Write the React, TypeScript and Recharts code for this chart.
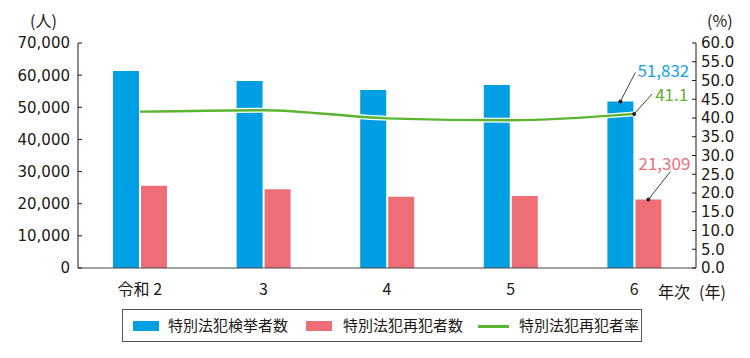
import { ComposedChart, Bar, Line, XAxis, YAxis } from 'recharts';

const FONT = '"Noto Sans CJK JP", "Noto Sans", sans-serif';
const NUM_FONT = '"DejaVu Sans", sans-serif';
const INK = '#231815';
const BLUE = '#009fe3';
const RED = '#ee6e78';
const GREEN = '#5cb531';

const years = ['令和 2', '3', '4', '5', '6'];
const arrests = [61300, 58200, 55400, 56900, 51832];
const repeaters = [25600, 24500, 22200, 22400, 21309];
const repeatRate = [41.7, 42.1, 39.9, 39.4, 41.1];

const leftTicks = [0, 10000, 20000, 30000, 40000, 50000, 60000, 70000];
const rightTicks = [0, 5, 10, 15, 20, 25, 30, 35, 40, 45, 50, 55, 60];

const data = years.map((year, i) => ({
  year,
  arrests: arrests[i],
  repeaters: repeaters[i],
  rate: repeatRate[i],
}));

const last = years.length - 1;
const comma = (n: number) => String(n).replace(/\B(?=(\d{3})+(?!\d))/g, ',');

function LeftTick({ x, y, payload }: any) {
  return (
    <g>
      <line x1={x + 8} x2={x + 12} y1={y} y2={y} stroke={INK} />
      <text x={x} y={y} dy="0.36em" textAnchor="end" fontSize={15} fill={INK} fontFamily={NUM_FONT}>
        {comma(payload.value)}
      </text>
    </g>
  );
}

function RightTick({ x, y, payload }: any) {
  return (
    <g>
      <line x1={x - 9} x2={x - 5} y1={y} y2={y} stroke={INK} />
      <text x={x} y={y} dy="0.36em" textAnchor="start" fontSize={15} fill={INK} fontFamily={NUM_FONT}>
        {Number(payload.value).toFixed(1)}
      </text>
    </g>
  );
}

// leader line + value label for the latest year
function Callout({ x, y, lx, ly, tx, ty, anchor, color, text }: any) {
  return (
    <g>
      <circle cx={x} cy={y} r={2} fill={INK} />
      <line x1={x} y1={y} x2={x + lx} y2={y + ly} stroke="#444" strokeWidth={1} />
      <text x={x + tx} y={y + ty} dy="0.35em" textAnchor={anchor} fontSize={17} fill={color} fontFamily={FONT}>
        {text}
      </text>
    </g>
  );
}

const isLast = (p: any, v: number) => p.index === last || p.value === v;

export default function App() {
  return (
    <div style={{ position: 'absolute', left: 0, top: 0, width: 750, height: 358, background: '#fff', fontFamily: FONT, color: INK }}>
      <ComposedChart
        width={750}
        height={358}
        data={data}
        margin={{ top: 43, right: 4, left: 8, bottom: 60 }}
        barSize={26}
        barGap={2}
      >
        <XAxis
          dataKey="year"
          tickLine={false}
          tickSize={0}
          tickMargin={16}
          axisLine={{ stroke: '#444' }}
          tick={{ fontSize: 16, fill: INK, fontFamily: FONT }}
          height={30}
        />
        <YAxis
          yAxisId="left"
          domain={[0, 70000]}
          ticks={leftTicks}
          width={70}
          tickSize={0}
          tickMargin={8}
          tickLine={false}
          axisLine={{ stroke: INK }}
          tick={<LeftTick />}
          interval={0}
        />
        <YAxis
          yAxisId="right"
          orientation="right"
          domain={[0, 60]}
          ticks={rightTicks}
          width={50}
          tickSize={0}
          tickMargin={5}
          tickLine={false}
          axisLine={{ stroke: INK }}
          tick={<RightTick />}
          interval={0}
        />
        <Bar
          yAxisId="left"
          dataKey="arrests"
          fill={BLUE}
          isAnimationActive={false}
          label={(p: any) =>
            isLast(p, arrests[last]) ? (
              <Callout x={p.x + p.width / 2} y={p.y} lx={15} ly={-29} tx={17} ty={-30} anchor="start" color="#1a9fe6" text={comma(arrests[last])} />
            ) : null
          }
        />
        <Bar
          yAxisId="left"
          dataKey="repeaters"
          fill={RED}
          isAnimationActive={false}
          label={(p: any) =>
            isLast(p, repeaters[last]) ? (
              <Callout x={p.x + p.width / 2} y={p.y} lx={22} ly={-28} tx={42} ty={-35} anchor="end" color={RED} text={comma(repeaters[last])} />
            ) : null
          }
        />
        <Line
          yAxisId="right"
          dataKey="rate"
          type="monotone"
          stroke="#fff"
          strokeWidth={5}
          dot={false}
          activeDot={false}
          legendType="none"
          isAnimationActive={false}
        />
        <Line
          yAxisId="right"
          dataKey="rate"
          type="monotone"
          stroke={GREEN}
          strokeWidth={2.5}
          dot={false}
          activeDot={false}
          isAnimationActive={false}
          label={(p: any) =>
            isLast(p, repeatRate[last]) ? (
              <Callout x={p.x} y={p.y} lx={18} ly={-20} tx={21} ty={-19} anchor="start" color="#62b22c" text={repeatRate[last].toFixed(1)} />
            ) : null
          }
        />
      </ComposedChart>

      <div style={{ position: 'absolute', left: 30, top: 12, fontSize: 16, lineHeight: '17px' }}>(人)</div>
      <div style={{ position: 'absolute', left: 707, top: 12, fontSize: 16, lineHeight: '17px' }}>(%)</div>
      <div style={{ position: 'absolute', left: 658, top: 279, fontSize: 16 }}>年次</div>
      <div style={{ position: 'absolute', left: 699, top: 279, fontSize: 16 }}>(年)</div>

      <div
        style={{
          position: 'absolute',
          left: 122,
          top: 309,
          width: 518,
          height: 31,
          border: '1px solid #555',
          fontSize: 15,
        }}
      >
        <div style={{ position: 'absolute', left: 10, top: 11, width: 26, height: 10, background: BLUE }} />
        <div style={{ position: 'absolute', left: 45, top: 5, lineHeight: '20px' }}>特別法犯検挙者数</div>
        <div style={{ position: 'absolute', left: 183, top: 11, width: 26, height: 10, background: RED }} />
        <div style={{ position: 'absolute', left: 220, top: 5, lineHeight: '20px' }}>特別法犯再犯者数</div>
        <div style={{ position: 'absolute', left: 355, top: 15, width: 31, height: 3, background: GREEN }} />
        <div style={{ position: 'absolute', left: 396, top: 5, lineHeight: '20px' }}>特別法犯再犯者率</div>
      </div>
    </div>
  );
}
